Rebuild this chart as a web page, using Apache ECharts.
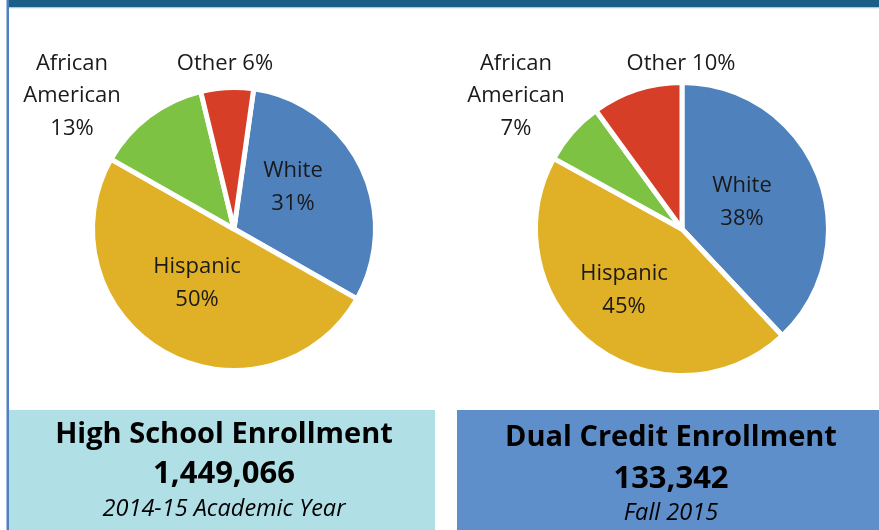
<!DOCTYPE html>
<html>
<head>
<meta charset="utf-8">
<script src="https://cdn.jsdelivr.net/npm/echarts@6/dist/echarts.min.js"></script>
<style>
html,body{margin:0;padding:0;background:#fff;}
#chart{width:879px;height:530px;}
</style>
</head>
<body>
<div id="chart"></div>
<script>
// ---- data ----
const categories = ['White', 'Hispanic', 'African American', 'Other'];
const highSchoolPct = [31, 50, 13, 6];
const dualCreditPct = [38, 45, 7, 10];
const boxTitles = ['High School Enrollment', 'Dual Credit Enrollment'];
const boxTotals = ['1,449,066', '133,342'];
const boxPeriods = ['2014-15 Academic Year', 'Fall 2015'];

// ---- style / layout ----
const sliceColors = ['#4F81BD', '#E0B126', '#7DC242', '#D73E27'];
const FONT = 'Open Sans';
const labelPos = [
  [[293, 187], [197, 283], [72, 96], [225, 64]],
  [[742, 202], [624, 290], [516, 96], [681, 64]]
];

function labelText(name, v) {
  if (name === 'African American') return 'African\nAmerican\n' + v + '%';
  if (name === 'Other') return 'Other ' + v + '%';
  return name + '\n' + v + '%';
}

function makeSeries(values, center, radius, startAngle, si) {
  return {
    type: 'pie',
    center: center,
    radius: radius,
    startAngle: startAngle,
    clockwise: true,
    animation: false,
    silent: true,
    itemStyle: { borderColor: '#fff', borderWidth: 5 },
    label: {
      show: true,
      position: 'inside',
      fontFamily: FONT,
      fontSize: 22,
      lineHeight: 32.5,
      color: '#1a1a1a',
      align: 'center',
      formatter: p => labelText(p.name, p.value)
    },
    labelLine: { show: false },
    labelLayout: function (p) {
      const pos = labelPos[si][p.dataIndex];
      return { x: pos[0], y: pos[1], align: 'center', verticalAlign: 'middle' };
    },
    data: categories.map((c, i) => ({ name: c, value: values[i], itemStyle: { color: sliceColors[i] } }))
  };
}

const chart = echarts.init(document.getElementById('chart'));
chart.setOption({
  backgroundColor: '#fff',
  series: [
    makeSeries(highSchoolPct, [234, 229], 141.5, 82, 0),
    makeSeries(dualCreditPct, [682, 229], 146.5, 90, 1)
  ],
  graphic: [
    { type: 'rect', shape: { x: 9, y: 0, width: 870, height: 7.5 }, style: { fill: '#195F87' }, z: 10 },
    { type: 'rect', shape: { x: 9, y: 7.5, width: 870, height: 1 }, style: { fill: '#cfe3ef' }, z: 10 },
    { type: 'rect', shape: { x: 6.5, y: 0, width: 2.5, height: 530 }, style: { fill: '#4F7FC0' }, z: 10 },
    { type: 'rect', shape: { x: 9, y: 410, width: 426, height: 120 }, style: { fill: '#B0DFE5' }, z: 10 },
    { type: 'rect', shape: { x: 457, y: 410, width: 422, height: 120 }, style: { fill: '#5F8FCB' }, z: 10 },
    { type: 'text', x: 224, y: 435, z: 11, style: { text: boxTitles[0], fontFamily: FONT, fontWeight: 'bold', fontSize: 29, fill: '#000', align: 'center', verticalAlign: 'middle' } },
    { type: 'text', x: 224, y: 474, z: 11, style: { text: boxTotals[0], fontFamily: FONT, fontWeight: 'bold', fontSize: 31, fill: '#000', align: 'center', verticalAlign: 'middle' } },
    { type: 'text', x: 224, y: 509, z: 11, style: { text: boxPeriods[0], fontFamily: FONT, fontStyle: 'italic', fontSize: 23.5, fill: '#000', align: 'center', verticalAlign: 'middle' } },
    { type: 'text', x: 671, y: 438, z: 11, style: { text: boxTitles[1], fontFamily: FONT, fontWeight: 'bold', fontSize: 29, fill: '#000', align: 'center', verticalAlign: 'middle' } },
    { type: 'text', x: 671, y: 479, z: 11, style: { text: boxTotals[1], fontFamily: FONT, fontWeight: 'bold', fontSize: 31, fill: '#000', align: 'center', verticalAlign: 'middle' } },
    { type: 'text', x: 671, y: 513, z: 11, style: { text: boxPeriods[1], fontFamily: FONT, fontStyle: 'italic', fontSize: 23.5, fill: '#000', align: 'center', verticalAlign: 'middle' } }
  ]
});
</script>
</body>
</html>
